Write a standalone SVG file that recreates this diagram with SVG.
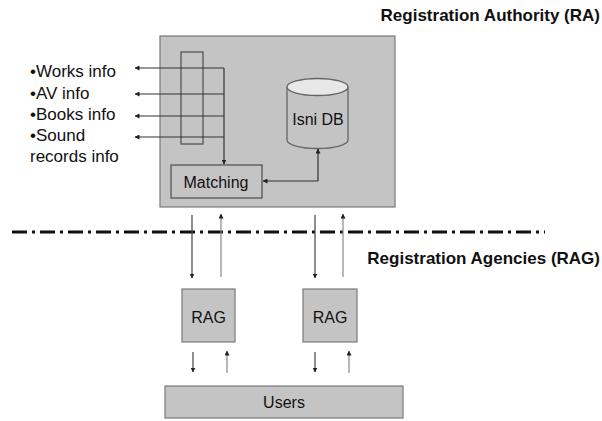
<svg xmlns="http://www.w3.org/2000/svg" width="602" height="421" viewBox="0 0 602 421">
<defs>
<marker id="ah" viewBox="0 0 10 10" refX="9" refY="5" markerWidth="5" markerHeight="5" markerUnits="userSpaceOnUse" orient="auto">
<path d="M0,0 L10,5 L0,10 z" fill="#222"/>
</marker>
<style>
.box{fill:#c4c4c4;stroke:#7a7a7a;stroke-width:1.2}
.inner{fill:none;stroke:#555;stroke-width:1.3}
.t{font-family:"Liberation Sans",Arial,sans-serif;fill:#111}
.lbl{font-size:16px}
.lst{font-size:17px}
.hd{font-size:17px;font-weight:bold}
.c{text-anchor:middle}
.ln{fill:none;stroke:#333;stroke-width:1.2}
.up{fill:none;stroke:#888;stroke-width:1.2}
.dn{fill:none;stroke:#444;stroke-width:1.2}
</style>
</defs>
<rect width="602" height="421" fill="#fff"/>

<text class="t hd" x="600" y="21" text-anchor="end">Registration Authority (RA)</text>
<text class="t hd" x="600" y="264" text-anchor="end">Registration Agencies (RAG)</text>

<g id="ra">
<rect class="box" x="160" y="36" width="235" height="171"/>
</g>

<g id="info-list">
<text class="t lst" x="30" y="77">•Works info</text>
<text class="t lst" x="30" y="99">•AV info</text>
<text class="t lst" x="30" y="120">•Books info</text>
<text class="t lst" x="30" y="141">•Sound</text>
<text class="t lst" x="30" y="162">records info</text>
</g>

<g id="collector">
<rect class="inner" x="181" y="52" width="22" height="92"/>
</g>

<g id="matching">
<rect class="inner" x="171" y="165" width="91" height="33"/>
<text class="t lbl c" x="216" y="188">Matching</text>
</g>

<g id="isni-db">
<path d="M287,87 L287,140 A30.5,8.5 0 0 0 348,140 L348,87" fill="#c4c4c4" stroke="#666" stroke-width="1.3"/>
<ellipse cx="317.5" cy="87" rx="30.5" ry="8.5" fill="#e8e8e8" stroke="#666" stroke-width="1.3"/>
<text class="t lbl c" x="318" y="125">Isni DB</text>
</g>

<g id="rag1">
<rect class="box" x="182" y="289" width="53" height="53"/>
<text class="t lbl c" x="208.5" y="323">RAG</text>
</g>
<g id="rag2">
<rect class="box" x="303" y="289" width="54" height="53"/>
<text class="t lbl c" x="330" y="323">RAG</text>
</g>

<g id="users">
<rect class="box" x="165" y="386" width="238" height="32"/>
<text class="t lbl c" x="284" y="408">Users</text>
</g>

<g id="connectors">
<path class="ln" d="M224,68 L135,68" marker-end="url(#ah)"/>
<path class="ln" d="M224,94 L135,94" marker-end="url(#ah)"/>
<path class="ln" d="M224,116 L135,116" marker-end="url(#ah)"/>
<path class="ln" d="M224,137 L135,137" marker-end="url(#ah)"/>
<path class="ln" d="M224,68 L224,164" marker-end="url(#ah)"/>
<path class="ln" d="M318,181 L263,181" marker-end="url(#ah)"/>
<path class="ln" d="M318,181 L318,149" marker-end="url(#ah)"/>
<path d="M12,232 L545,232" fill="none" stroke="#111" stroke-width="3" stroke-dasharray="15 5 3 5"/>
<path class="dn" d="M192,215 L192,278" marker-end="url(#ah)"/>
<path class="up" d="M221,277 L221,214" marker-end="url(#ah)"/>
<path class="dn" d="M315,215 L315,278" marker-end="url(#ah)"/>
<path class="up" d="M343,277 L343,214" marker-end="url(#ah)"/>
<path class="dn" d="M193,352 L193,372" marker-end="url(#ah)"/>
<path class="up" d="M227,373 L227,351" marker-end="url(#ah)"/>
<path class="dn" d="M315,352 L315,372" marker-end="url(#ah)"/>
<path class="up" d="M349,373 L349,351" marker-end="url(#ah)"/>
</g>
</svg>
